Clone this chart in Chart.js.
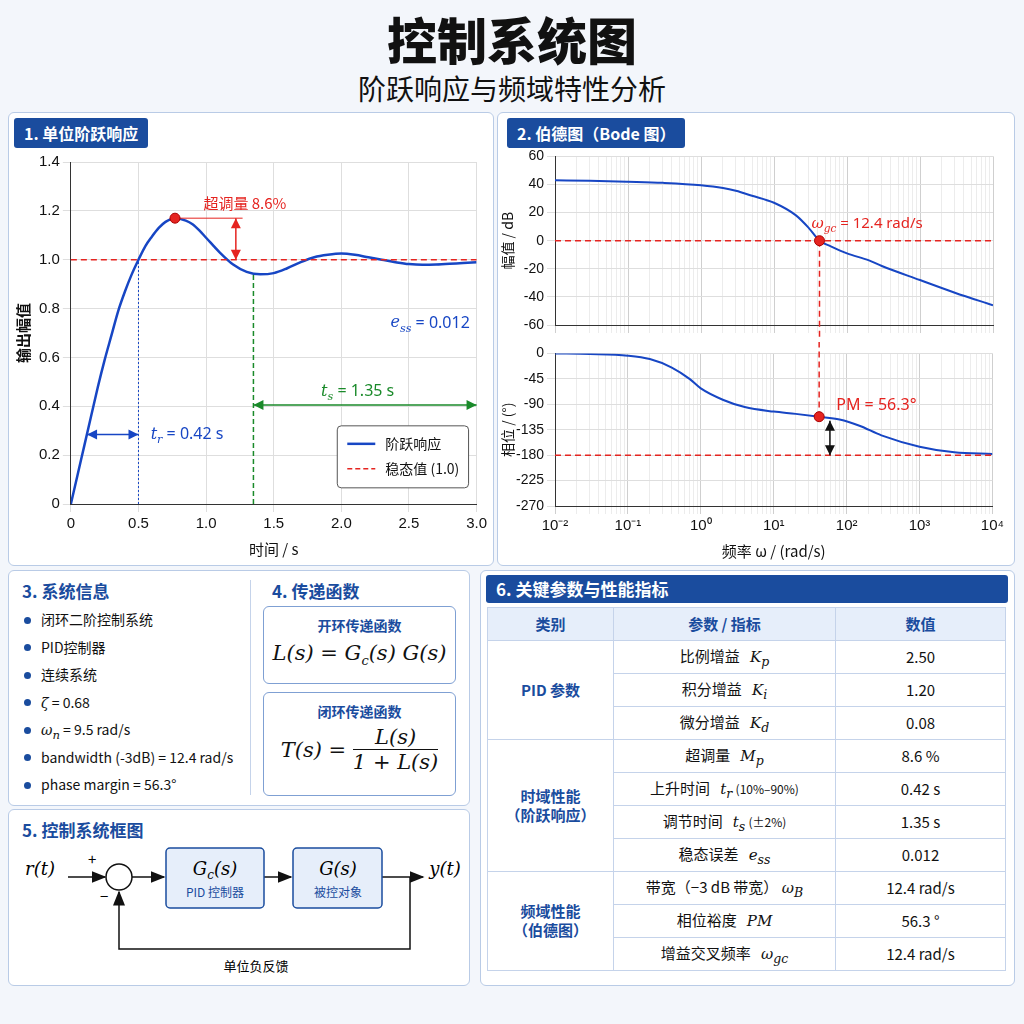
<!DOCTYPE html>
<html><head><meta charset="utf-8">
<script src="https://cdn.jsdelivr.net/npm/chart.js@4.4.1/dist/chart.umd.min.js"></script>
<style>
body{margin:0;width:1024px;height:1024px;background:#f3f6fb;font-family:"Noto Sans CJK SC","Noto Sans",sans-serif;position:relative;overflow:hidden;color:#111}
.abs{position:absolute}
.panel{position:absolute;background:#fff;border:1px solid #b9cbe6;border-radius:6px;box-sizing:border-box}
.tab{position:absolute;background:#1a4c9e;color:#fff;font-weight:bold;font-size:16px;padding:3px 10px;border-radius:3px}
.h{position:absolute;color:#1a4c9e;font-weight:bold;font-size:17px}
.m{font-family:"DejaVu Serif","Liberation Serif",serif;font-style:italic}
ul{margin:0;padding:0;list-style:none}
li{font-size:14px;height:27.5px;line-height:27.5px}
li:before{content:"";display:inline-block;width:7px;height:7px;border-radius:50%;background:#1a4c9e;margin:0 10px 2px 0;vertical-align:middle}
.tf{position:absolute;border:1px solid #7fa0d3;border-radius:6px;text-align:center}
.tf .t{color:#1a4c9e;font-weight:bold;font-size:14px;margin-top:8px}
table{border-collapse:collapse;font-size:15px}
td,th{border:1px solid #c5d3ea;text-align:center;padding:0;line-height:1.25}
th{background:#e6eefa;color:#1a4c9e;height:32px}
td{height:32px}
td sub{line-height:0}
td small{font-size:12px}
td.c{color:#1a4c9e;font-weight:bold;background:#fff}
</style></head><body>
<div class="abs" style="left:0;width:1024px;top:2px;text-align:center;font-size:50px;font-weight:900">控制系统图</div>
<div class="abs" style="left:0;width:1024px;top:68px;text-align:center;font-size:28px">阶跃响应与频域特性分析</div>

<div class="panel" style="left:8px;top:112px;width:486px;height:454px"></div>
<div class="tab" style="left:14px;top:118px">1. 单位阶跃响应</div>
<div class="abs" style="left:10px;top:150px;width:480px;height:412px"><canvas id="step"></canvas></div>

<div class="panel" style="left:497px;top:112px;width:518px;height:454px"></div>
<div class="tab" style="left:507px;top:118px">2. 伯德图（Bode 图）</div>
<div class="abs" style="left:499px;top:145px;width:508px;height:192px"><canvas id="mag"></canvas></div>
<div class="abs" style="left:499px;top:342px;width:508px;height:222px"><canvas id="pha"></canvas></div>

<div class="panel" style="left:8px;top:570px;width:462px;height:236px"></div>
<div class="abs" style="left:250px;top:580px;width:1px;height:215px;background:#c5d3ea"></div>
<div class="h" style="left:22px;top:578px">3. 系统信息</div>
<ul class="abs" style="left:24px;top:606px">
<li>闭环二阶控制系统</li><li>PID控制器</li><li>连续系统</li>
<li><span class="m">ζ</span> = 0.68</li><li><span class="m">ω<sub>n</sub></span> = 9.5 rad/s</li>
<li>bandwidth (-3dB) = 12.4 rad/s</li><li>phase margin = 56.3°</li></ul>
<div class="h" style="left:272px;top:578px">4. 传递函数</div>
<div class="tf" style="left:263px;top:606px;width:191px;height:76px"><div class="t">开环传递函数</div>
<div class="m" style="font-size:21px;margin-top:6px">L(s) = G<sub style="font-size:13px">c</sub>(s) G(s)</div></div>
<div class="tf" style="left:263px;top:692px;width:191px;height:102px"><div class="t">闭环传递函数</div>
<div class="m" style="font-size:21px;margin-top:4px;display:flex;align-items:center;justify-content:center">T(s) =&nbsp;<span style="display:inline-block;text-align:center"><span style="display:block;border-bottom:1px solid #111;padding:0 4px">L(s)</span><span style="display:block">1 + L(s)</span></span></div></div>

<div class="panel" style="left:8px;top:809px;width:462px;height:177px"></div>
<div class="h" style="left:22px;top:817px">5. 控制系统框图</div>
<svg class="abs" style="left:8px;top:809px" width="462" height="177">
<defs><marker id="ar" markerWidth="10" markerHeight="8" refX="9" refY="4" orient="auto"><path d="M0,0L10,4L0,8z" fill="#111"/></marker></defs>
<g stroke="#111" stroke-width="1.5" fill="none">
<line x1="60" y1="68" x2="97" y2="68" marker-end="url(#ar)"/>
<circle cx="111" cy="68" r="13"/>
<line x1="124" y1="68" x2="156" y2="68" marker-end="url(#ar)"/>
<line x1="256" y1="68" x2="283" y2="68" marker-end="url(#ar)"/>
<line x1="374" y1="68" x2="415" y2="68" marker-end="url(#ar)"/>
<polyline points="402,68 402,140 111,140 111,83" marker-end="url(#ar)"/>
</g>
<rect x="158" y="39" width="98" height="60" rx="4" fill="#e6eefa" stroke="#1a4c9e" stroke-width="1.5"/>
<rect x="285" y="39" width="89" height="60" rx="4" fill="#e6eefa" stroke="#1a4c9e" stroke-width="1.5"/>
<g font-family="DejaVu Serif,serif" font-style="italic" font-size="18" text-anchor="middle">
<text x="32" y="66">r(t)</text><text x="437" y="66">y(t)</text>
<text x="207" y="66">G<tspan font-size="12" dy="4">c</tspan><tspan dy="-4">(s)</tspan></text>
<text x="330" y="66">G(s)</text></g>
<g font-size="12" text-anchor="middle" fill="#1a4c9e"><text x="207" y="88">PID 控制器</text><text x="330" y="88">被控对象</text></g>
<text x="80" y="56" font-size="15">+</text><text x="92" y="93" font-size="15">−</text>
<text x="248" y="162" font-size="13" text-anchor="middle">单位负反馈</text>
</svg>

<div class="panel" style="left:480px;top:570px;width:535px;height:416px"></div>
<div class="abs" style="left:486px;top:575px;width:522px;height:28px;background:#1a4c9e;color:#fff;font-weight:bold;font-size:17px;line-height:28px;padding-left:10px;box-sizing:border-box;border-radius:3px">6. 关键参数与性能指标</div>
<table class="abs" style="left:487px;top:607px;width:519px">
<tr><th style="width:125px">类别</th><th style="width:221px">参数 / 指标</th><th>数值</th></tr>
<tr><td class="c" rowspan="3">PID 参数</td><td>比例增益 &nbsp; <span class="m">K<sub>p</sub></span></td><td>2.50</td></tr>
<tr><td>积分增益 &nbsp; <span class="m">K<sub>i</sub></span></td><td>1.20</td></tr>
<tr><td>微分增益 &nbsp; <span class="m">K<sub>d</sub></span></td><td>0.08</td></tr>
<tr><td class="c" rowspan="4">时域性能<br>（阶跃响应）</td><td>超调量 &nbsp; <span class="m">M<sub>p</sub></span></td><td>8.6 %</td></tr>
<tr><td>上升时间 &nbsp; <span class="m">t<sub>r</sub></span> <small>(10%–90%)</small></td><td>0.42 s</td></tr>
<tr><td>调节时间 &nbsp; <span class="m">t<sub>s</sub></span> <small>(±2%)</small></td><td>1.35 s</td></tr>
<tr><td>稳态误差 &nbsp; <span class="m">e<sub>ss</sub></span></td><td>0.012</td></tr>
<tr><td class="c" rowspan="3">频域性能<br>（伯德图）</td><td>带宽（−3 dB 带宽） <span class="m">ω<sub>B</sub></span></td><td>12.4 rad/s</td></tr>
<tr><td>相位裕度 &nbsp; <span class="m">PM</span></td><td>56.3 °</td></tr>
<tr><td>增益交叉频率 &nbsp; <span class="m">ω<sub>gc</sub></span></td><td>12.4 rad/s</td></tr>
</table>

<script>
// step response
const stepT = [0,0.05,0.1,0.15,0.2,0.25,0.3,0.35,0.4,0.45,0.5,0.55,0.6,0.65,0.7,0.77,0.85,0.9,0.95,1.0,1.1,1.2,1.3,1.4,1.5,1.6,1.7,1.8,1.9,2.0,2.1,2.2,2.3,2.4,2.5,2.6,2.7,2.8,2.9,3.0];
const stepY = [0,0.12,0.24,0.36,0.48,0.59,0.69,0.79,0.87,0.94,1.0,1.055,1.095,1.13,1.155,1.17,1.16,1.145,1.12,1.09,1.03,0.98,0.95,0.94,0.945,0.965,0.99,1.01,1.02,1.025,1.02,1.01,1.0,0.99,0.982,0.979,0.98,0.983,0.987,0.99];
const peak = {t: 0.77, y: 1.17};
const tr = {from: 0.12, to: 0.5, y: 0.285};
const ts = {t: 1.35, end: 3.0, y: 0.405};
// bode
const magW = [0.01,0.03,0.1,0.3,1,2,3,5,10,20,30,42,60,100,200,300,1000,3000,10000];
const magDb = [43,42.7,42,41.2,39.5,37.5,35.5,32,27,18,9,0,-4,-9,-14,-18,-28,-37,-46];
const phW = [0.01,0.03,0.1,0.2,0.4,0.7,1,2,4,10,20,42,80,150,300,1000,3000,10000];
const phDeg = [0,-1,-4,-10,-25,-45,-62,-82,-95,-103,-107,-112,-117,-128,-145,-165,-175,-178];
const wgc = 42, pmPhase = -112, pmArrowW = 59;
const decadeLabels = {'-2':'10⁻²','-1':'10⁻¹','0':'10⁰','1':'10¹','2':'10²','3':'10³','4':'10⁴'};

const BLUE = '#1746c4', RED = '#e52420', GREEN = '#1a8a2a';
const gridC = {color: '#dedede', borderDash: [2, 2]};

function rich(ctx, parts, x, y, color, size, align) {
  let w = 0;
  parts.forEach((p) => { ctx.font = (p.i ? 'italic ' : '') + (p.s ? size * 0.7 : size) + 'px ' + (p.i ? '"DejaVu Serif",serif' : '"Noto Sans",sans-serif'); w += ctx.measureText(p.t).width; });
  let cx = align === 'right' ? x - w : x;
  ctx.fillStyle = color; ctx.textBaseline = 'middle'; ctx.textAlign = 'left';
  parts.forEach((p) => {
    ctx.font = (p.i ? 'italic ' : '') + (p.s ? size * 0.7 : size) + 'px ' + (p.i ? '"DejaVu Serif",serif' : '"Noto Sans",sans-serif');
    ctx.fillText(p.t, cx, p.s ? y + size * 0.35 : y);
    cx += ctx.measureText(p.t).width;
  });
}
function line(ctx, x1, y1, x2, y2, color, dash, w) {
  ctx.save(); ctx.strokeStyle = color; ctx.lineWidth = w || 1.5; ctx.setLineDash(dash || []);
  ctx.beginPath(); ctx.moveTo(x1, y1); ctx.lineTo(x2, y2); ctx.stroke(); ctx.restore();
}
function arrowHead(ctx, x, y, ang, color) {
  ctx.save(); ctx.fillStyle = color; ctx.translate(x, y); ctx.rotate(ang);
  ctx.beginPath(); ctx.moveTo(0, 0); ctx.lineTo(-10, -5); ctx.lineTo(-10, 5); ctx.fill(); ctx.restore();
}
function dblArrow(ctx, x1, y1, x2, y2, color) {
  line(ctx, x1, y1, x2, y2, color);
  const a = Math.atan2(y2 - y1, x2 - x1);
  arrowHead(ctx, x2, y2, a, color); arrowHead(ctx, x1, y1, a + Math.PI, color);
}
function dot(ctx, x, y) {
  ctx.save(); ctx.fillStyle = RED; ctx.strokeStyle = '#a00'; ctx.beginPath(); ctx.arc(x, y, 5, 0, Math.PI * 2); ctx.fill(); ctx.stroke(); ctx.restore();
}

const stepDeco = {
  id: 'stepDeco',
  afterDatasetsDraw(c) {
    const ctx = c.ctx, x = c.scales.x, y = c.scales.y, a = c.chartArea;
    line(ctx, a.left, y.getPixelForValue(1), a.right, y.getPixelForValue(1), RED, [6, 4]);
    line(ctx, x.getPixelForValue(0.5), y.getPixelForValue(0), x.getPixelForValue(0.5), y.getPixelForValue(1), BLUE, [2, 2], 1);
    line(ctx, x.getPixelForValue(ts.t), y.getPixelForValue(0), x.getPixelForValue(ts.t), y.getPixelForValue(0.94), GREEN, [5, 3]);
    line(ctx, x.getPixelForValue(peak.t), y.getPixelForValue(peak.y), x.getPixelForValue(1.27), y.getPixelForValue(peak.y), RED, [], 1);
    dblArrow(ctx, x.getPixelForValue(1.22), y.getPixelForValue(peak.y), x.getPixelForValue(1.22), y.getPixelForValue(1), RED);
    ctx.font = '15px "Noto Sans CJK SC"'; ctx.fillStyle = RED; ctx.textAlign = 'left'; ctx.textBaseline = 'middle';
    ctx.fillText('超调量 8.6%', x.getPixelForValue(0.98), y.getPixelForValue(1.23));
    dot(ctx, x.getPixelForValue(peak.t), y.getPixelForValue(peak.y));
    dblArrow(ctx, x.getPixelForValue(tr.from), y.getPixelForValue(tr.y), x.getPixelForValue(tr.to), y.getPixelForValue(tr.y), BLUE);
    rich(ctx, [{t: 't', i: 1}, {t: 'r', i: 1, s: 1}, {t: ' = 0.42 s'}], x.getPixelForValue(0.59), y.getPixelForValue(tr.y), BLUE, 16);
    dblArrow(ctx, x.getPixelForValue(ts.t), y.getPixelForValue(ts.y), x.getPixelForValue(ts.end), y.getPixelForValue(ts.y), GREEN);
    rich(ctx, [{t: 't', i: 1}, {t: 's', i: 1, s: 1}, {t: ' = 1.35 s'}], x.getPixelForValue(1.85), y.getPixelForValue(0.46), GREEN, 16);
    rich(ctx, [{t: 'e', i: 1}, {t: 'ss', i: 1, s: 1}, {t: ' = 0.012'}], x.getPixelForValue(2.95), y.getPixelForValue(0.74), BLUE, 16, 'right');
    // legend box
    const bx = x.getPixelForValue(1.97), by = y.getPixelForValue(0.32), bw = a.right - 8 - bx, bh = 62;
    ctx.save(); ctx.fillStyle = '#fff'; ctx.strokeStyle = '#555'; ctx.lineWidth = 1;
    ctx.beginPath(); ctx.roundRect(bx, by, bw, bh, 4); ctx.fill(); ctx.stroke(); ctx.restore();
    line(ctx, bx + 10, by + 18, bx + 38, by + 18, BLUE, [], 2.5);
    line(ctx, bx + 10, by + 43, bx + 38, by + 43, RED, [5, 3]);
    ctx.fillStyle = '#111'; ctx.font = '14px "Noto Sans CJK SC"'; ctx.textAlign = 'left'; ctx.textBaseline = 'middle';
    ctx.fillText('阶跃响应', bx + 48, by + 18); ctx.fillText('稳态值 (1.0)', bx + 48, by + 43);
  }
};

new Chart(document.getElementById('step'), {
  type: 'line',
  data: {datasets: [{data: stepT.map((t, i) => ({x: t, y: stepY[i]})), borderColor: BLUE, borderWidth: 2.5, pointRadius: 0, cubicInterpolationMode: 'monotone'}]},
  options: {
    responsive: true, maintainAspectRatio: false, animation: false,
    layout: {padding: {right: 12, top: 4}},
    plugins: {legend: {display: false}, tooltip: {enabled: false}},
    scales: {
      x: {type: 'linear', min: 0, max: 3, grid: gridC, border: {color: '#333'},
        ticks: {stepSize: 0.5, color: '#111', font: {size: 15}, callback: (v) => v === 0 ? '0' : v.toFixed(1)},
        title: {display: true, text: '时间 / s', color: '#111', font: {size: 15, family: 'Noto Sans CJK SC'}}},
      y: {min: 0, max: 1.4, grid: gridC, border: {color: '#333'},
        ticks: {stepSize: 0.2, color: '#111', font: {size: 15}, callback: (v) => v === 0 ? '0' : v.toFixed(1)},
        title: {display: true, text: '输出幅值', color: '#111', font: {size: 15, weight: 'bold', family: 'Noto Sans CJK SC'}}}
    }
  },
  plugins: [stepDeco]
});

function isDecade(v) { const l = Math.log10(v); return Math.abs(l - Math.round(l)) < 1e-6; }
function logX(showLabels) {
  return {type: 'logarithmic', min: 0.01, max: 10000,
    grid: {color: (c) => isDecade(c.tick.value) ? '#cfcfcf' : '#ececec', borderDash: [2, 2]},
    border: {color: '#333'},
    afterBuildTicks: (s) => {
      const t = [];
      for (let e = -2; e <= 4; e++) for (let k = 1; k <= 9; k++) { const v = k * Math.pow(10, e); if (v <= 10000) t.push({value: v}); }
      s.ticks = t;
    },
    ticks: {display: showLabels, autoSkip: false, maxRotation: 0, color: '#111', font: {size: 15},
      callback: (v) => isDecade(v) ? decadeLabels[String(Math.round(Math.log10(v)))] : ''},
    title: {display: showLabels, text: '频率 ω / (rad/s)', color: '#111', font: {size: 15, family: 'Noto Sans CJK SC'}}};
}
function yAx(min, max, step, title) {
  return {min, max, grid: gridC, border: {color: '#333'}, afterFit: (s) => { s.width = 56; },
    ticks: {stepSize: step, color: '#111', font: {size: 14}, padding: 3},
    title: {display: true, text: title, color: '#111', padding: 0, font: {size: 14, family: 'Noto Sans CJK SC'}}};
}

const magDeco = {
  id: 'magDeco',
  afterDatasetsDraw(c) {
    const ctx = c.ctx, x = c.scales.x, y = c.scales.y, a = c.chartArea;
    const px = x.getPixelForValue(wgc), py = y.getPixelForValue(0);
    line(ctx, a.left, py, a.right, py, RED, [6, 4]);
    line(ctx, px, py, px, a.bottom + 12, RED, [6, 4]);
    dot(ctx, px, py);
    rich(ctx, [{t: 'ω', i: 1}, {t: 'gc', i: 1, s: 1}, {t: ' = 12.4 rad/s'}], px - 8, py - 17, RED, 15);
  }
};
const phDeco = {
  id: 'phDeco',
  afterDatasetsDraw(c) {
    const ctx = c.ctx, x = c.scales.x, y = c.scales.y, a = c.chartArea;
    const px = x.getPixelForValue(wgc), py = y.getPixelForValue(pmPhase), p180 = y.getPixelForValue(-180);
    line(ctx, a.left, p180, a.right, p180, RED, [6, 4]);
    line(ctx, px, a.top - 12, px, py, RED, [6, 4]);
    dot(ctx, px, py);
    const ax = x.getPixelForValue(pmArrowW);
    dblArrow(ctx, ax, y.getPixelForValue(-119), ax, p180, '#111');
    rich(ctx, [{t: 'PM = 56.3°'}], x.getPixelForValue(72), y.getPixelForValue(-92), RED, 16);
  }
};

new Chart(document.getElementById('mag'), {
  type: 'line',
  data: {datasets: [{data: magW.map((w, i) => ({x: w, y: magDb[i]})), borderColor: BLUE, borderWidth: 2, pointRadius: 0, cubicInterpolationMode: 'monotone'}]},
  options: {responsive: true, maintainAspectRatio: false, animation: false,
    layout: {padding: {right: 14, top: 2, bottom: 4}},
    plugins: {legend: {display: false}, tooltip: {enabled: false}},
    scales: {x: logX(false), y: yAx(-60, 60, 20, '幅值 / dB')}},
  plugins: [magDeco]
});
new Chart(document.getElementById('pha'), {
  type: 'line',
  data: {datasets: [{data: phW.map((w, i) => ({x: w, y: phDeg[i]})), borderColor: BLUE, borderWidth: 2, pointRadius: 0, cubicInterpolationMode: 'monotone'}]},
  options: {responsive: true, maintainAspectRatio: false, animation: false,
    layout: {padding: {right: 14, top: 8}},
    plugins: {legend: {display: false}, tooltip: {enabled: false}},
    scales: {x: logX(true), y: yAx(-270, 0, 45, '相位 / (°)')}},
  plugins: [phDeco]
});
</script>
</body></html>
